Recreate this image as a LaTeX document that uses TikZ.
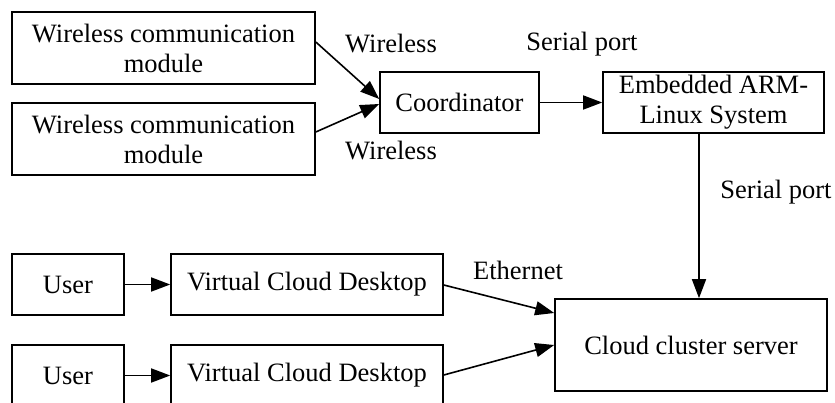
\documentclass[tikz,border=0pt]{standalone}
\usepackage{fontspec}
\setmainfont{Liberation Serif}
\usetikzlibrary{arrows.meta}
\begin{document}
\begin{tikzpicture}[x=1pt,y=-1pt,
  box/.style={draw,line width=1.6pt,inner sep=0pt,align=center,font=\fontsize{26.5}{30}\selectfont},
  lbl/.style={font=\fontsize{26.5}{30}\selectfont,inner sep=0pt},
  arr/.style={line width=1.6pt,-{Triangle[length=19pt,width=14pt]}}]
\useasboundingbox (0,0) rectangle (835,403);
\clip (0,0) rectangle (835,403);
\node[box,minimum width=303pt,minimum height=72pt] (w1) at (163.5,48) {Wireless communication\\module};
\node[box,minimum width=303pt,minimum height=72pt] (w2) at (163.5,139) {Wireless communication\\module};
\node[box,minimum width=159pt,minimum height=61pt] (co) at (459.5,102.5) {Coordinator};
\node[box,minimum width=221pt,minimum height=61pt] (em) at (713.5,102.5) {Embedded ARM-\\Linux System};
\node[box,minimum width=272pt,minimum height=92pt] (cc) at (691,345) {Cloud cluster server};
\node[box,minimum width=112pt,minimum height=61pt] (u1) at (68,284.5) {User};
\node[box,minimum width=272pt,minimum height=61pt] (v1) at (307,284.5) {Virtual Cloud Desktop};
\node[box,minimum width=112pt,minimum height=61pt] (u2) at (68,375.5) {User};
\node[box,minimum width=272pt,minimum height=61pt] (v2) at (307,375.5) {Virtual Cloud Desktop};
\node[lbl] (l1) at (391,44) {Wireless};
\node[lbl] (l2) at (391,151) {Wireless};
\node[lbl] (l3) at (582,44) {Serial port};
\node[lbl] (l4) at (776,192) {Serial port};
\node[lbl] (l5) at (518,270) {Ethernet};
\draw[arr] (w1.east |- 0,42) -- (co.west |- 0,99);
\draw[arr] (w2.east |- 0,132) -- (co.west |- 0,104);
\draw[arr] (co.east) -- (em.west);
\draw[arr] (em.south -| 699,0) -- (cc.north -| 699,0);
\draw[arr] (u1) -- (v1);
\draw[arr] (u2) -- (v2);
\draw[arr] (v1.east |- 0,285) -- (cc.west |- 0,313);
\draw[arr] (v2.east |- 0,375) -- (cc.west |- 0,345);
\end{tikzpicture}
\end{document}
